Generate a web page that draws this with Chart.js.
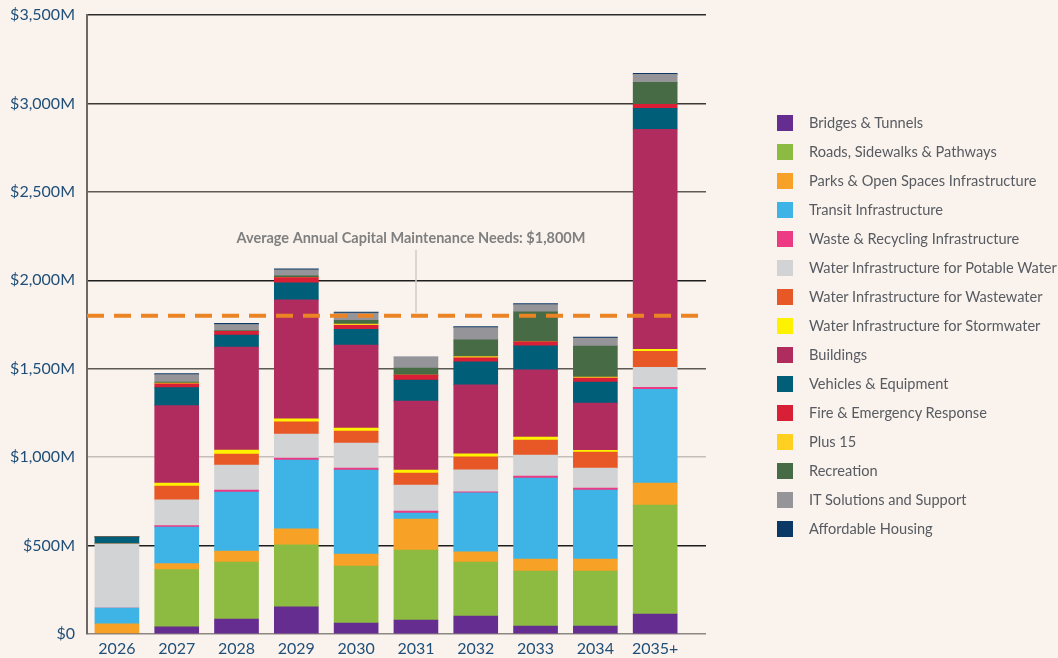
<!DOCTYPE html>
<html lang="en">
<head>
  <meta charset="UTF-8" />
  <title>Capital Maintenance Needs by Year</title>
  <script src="https://cdn.jsdelivr.net/npm/chart.js"></script>
  <style>
    body {
      margin: 0;
      background: #faf3ed;
      font-family: 'Lato', sans-serif;
    }

    .wrap {
      position: relative;
      width: 1058px;
      height: 658px;
    }

    #legend {
      position: absolute;
      left: 777px;
      top: 108px;
      margin: 0;
      padding: 0;
      list-style: none;
    }

    #legend li {
      display: flex;
      align-items: center;
      height: 29px;
      font-size: 14.6px;
      color: #575b61;
      white-space: nowrap;
    }

    #legend .box {
      width: 16px;
      height: 16px;
      margin-right: 16px;
    }
  </style>
</head>
<body>

  <div class="wrap">
    <canvas id="needsChart" width="1058" height="658"></canvas>
    <ul id="legend"></ul>
  </div>

<script>
  // categories
  const years = ['2026', '2027', '2028', '2029', '2030', '2031', '2032', '2033', '2034', '2035+'];

  // series values, $M (bottom of stack first)
  const bridges     = [0, 40, 85, 153, 62, 79, 102, 45, 45, 113];
  const roads       = [0, 324, 322, 351, 322, 396, 305, 311, 311, 616];
  const parks       = [58, 34, 62, 90, 68, 175, 57, 68, 68, 124];
  const transit     = [89, 207, 334, 390, 475, 34, 334, 458, 390, 531];
  const waste       = [0, 8, 11, 11, 11, 11, 6, 11, 11, 11];
  const potable     = [362, 145, 141, 136, 141, 147, 124, 119, 113, 113];
  const wastewater  = [0, 79, 62, 68, 68, 68, 74, 85, 90, 90];
  const stormwater  = [0, 17, 23, 17, 17, 17, 17, 17, 11, 11];
  const buildings   = [0, 437, 582, 673, 469, 390, 390, 379, 266, 1244];
  const vehicles    = [40, 102, 68, 96, 90, 119, 130, 136, 119, 119];
  const fire        = [0, 21, 21, 30, 23, 28, 23, 23, 23, 23];
  const plus15      = [0, 5, 0, 0, 7, 0, 6, 0, 6, 0];
  const recreation  = [0, 6, 5, 10, 21, 40, 96, 170, 175, 124];
  const itSupport   = [0, 42, 34, 34, 40, 62, 68, 40, 45, 45];
  const housing     = [0, 6, 6, 6, 6, 0, 6, 6, 6, 6];

  const seriesNames = [
    'Bridges & Tunnels', 'Roads, Sidewalks & Pathways', 'Parks & Open Spaces Infrastructure',
    'Transit Infrastructure', 'Waste & Recycling Infrastructure', 'Water Infrastructure for Potable Water',
    'Water Infrastructure for Wastewater', 'Water Infrastructure for Stormwater', 'Buildings',
    'Vehicles & Equipment', 'Fire & Emergency Response', 'Plus 15', 'Recreation',
    'IT Solutions and Support', 'Affordable Housing'
  ];
  const seriesValues = [bridges, roads, parks, transit, waste, potable, wastewater, stormwater,
    buildings, vehicles, fire, plus15, recreation, itSupport, housing];
  const seriesColors = ['#662d91', '#8dbb42', '#f7a226', '#3db4e5', '#ec3a84', '#d2d3d5', '#e85726',
    '#fff200', '#b02c5e', '#005e78', '#d91f36', '#ffd020', '#476b45', '#959599', '#0c3866'];

  // y ticks
  const yTicks = [0, 500, 1000, 1500, 2000, 2500, 3000, 3500];
  const gridColors = ['#8d8782', '#1e1e1e', '#c4bfba', '#5d5955', '#1e1e1e', '#5d5955', '#3a3835', '#2a2a2a'];

  const avgNeed = 1800;
  const avgLabel = 'Average Annual Capital Maintenance Needs: $1,800M';

  const labelColor = '#1f4e78';

  const avgLinePlugin = {
    id: 'avgLine',
    afterDatasetsDraw(chart) {
      const { ctx, chartArea, scales } = chart;
      const py = scales.y.getPixelForValue(avgNeed);
      ctx.save();
      // connector from the label
      ctx.strokeStyle = '#d2ccc6';
      ctx.lineWidth = 1.5;
      ctx.beginPath();
      ctx.moveTo(416, py - 66);
      ctx.lineTo(416, py - 3);
      ctx.stroke();
      // dashed average line
      ctx.strokeStyle = '#ea8424';
      ctx.lineWidth = 4;
      ctx.setLineDash([17, 10]);
      ctx.beginPath();
      ctx.moveTo(chartArea.left, py);
      ctx.lineTo(chartArea.right, py);
      ctx.stroke();
      ctx.setLineDash([]);
      ctx.font = 'bold 14.5px Lato';
      ctx.fillStyle = '#7f7f7f';
      ctx.textAlign = 'center';
      ctx.textBaseline = 'middle';
      ctx.fillText(avgLabel, 411, py - 77);
      ctx.restore();
    }
  };

  const needsChart = new Chart(document.getElementById('needsChart'), {
    type: 'bar',
    data: {
      datasets: seriesNames.map((name, i) => ({
        label: name,
        data: seriesValues[i].map((v, j) => ({ x: j, y: v })),
        backgroundColor: seriesColors[i],
        borderWidth: 0,
        barThickness: 44
      }))
    },
    options: {
      responsive: false,
      animation: false,
      devicePixelRatio: 1,
      layout: { autoPadding: false, padding: { top: 15, right: 352, left: 0, bottom: 0 } },
      plugins: {
        legend: { display: false },
        tooltip: { enabled: false }
      },
      scales: {
        x: {
          type: 'linear',
          stacked: true,
          offset: false,
          min: -0.5,
          max: 9.85,
          grid: { display: false, drawTicks: false },
          border: { display: false },
          afterBuildTicks: s => { s.ticks = years.map((y, i) => ({ value: i })); },
          afterFit: s => { s.height = 24; s.paddingLeft = 0; s.paddingRight = 0; },
          ticks: {
            autoSkip: false,
            maxRotation: 0,
            padding: 5,
            color: labelColor,
            font: { family: 'Lato', size: 16 },
            callback: v => years[v]
          }
        },
        y: {
          stacked: true,
          min: 0,
          max: 3500,
          afterBuildTicks: s => { s.ticks = yTicks.map(v => ({ value: v })); },
          afterFit: s => { s.width = 87; s.paddingTop = 0; s.paddingBottom = 0; },
          grid: {
            drawTicks: false,
            lineWidth: 1.5,
            color: ctx => gridColors[yTicks.indexOf(ctx.tick.value)] || '#777'
          },
          border: { color: '#6d6863', width: 2 },
          ticks: {
            padding: 12,
            color: labelColor,
            font: { family: 'Lato', size: 16 },
            callback: v => v === 0 ? '$0' : '$' + v.toLocaleString('en-US') + 'M'
          }
        }
      }
    },
    plugins: [avgLinePlugin]
  });

  // legend, same order as the stack
  const legend = document.getElementById('legend');
  seriesNames.forEach((name, i) => {
    const li = document.createElement('li');
    li.innerHTML = `<span class="box" style="background:${seriesColors[i]}"></span>${name}`;
    legend.appendChild(li);
  });
</script>
</body>
</html>
